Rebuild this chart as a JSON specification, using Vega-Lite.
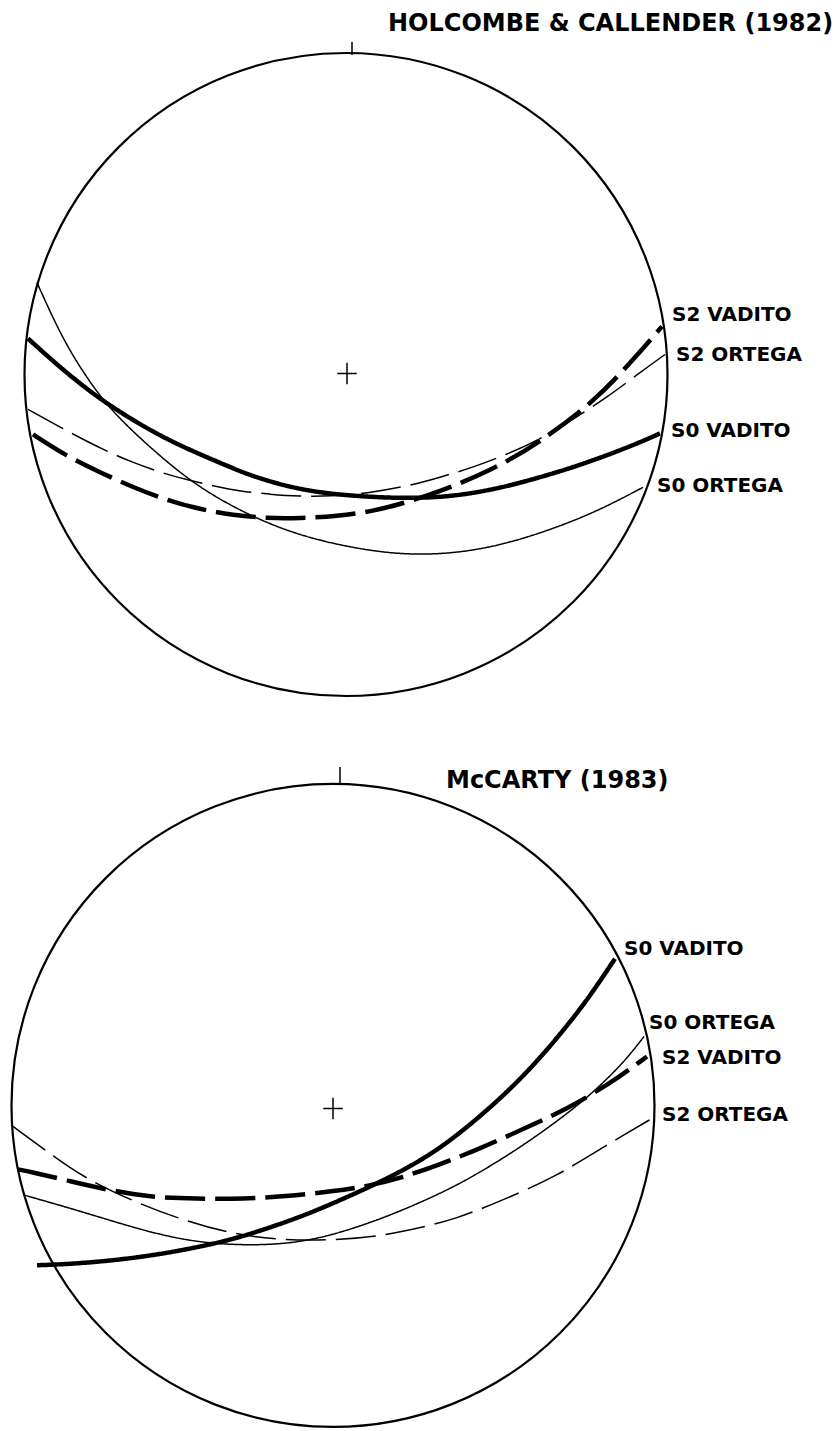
{
  "$schema": "https://vega.github.io/schema/vega-lite/v6.json",
  "width": 840,
  "height": 1431,
  "padding": 0,
  "autosize": {"type": "fit", "contains": "padding"},
  "background": "white",
  "config": {"view": {"stroke": null}},
  "datasets": {
    "circles": [
      {"panel": "top", "x": 346, "y": 375},
      {"panel": "bottom", "x": 333, "y": 1107}
    ],
    "crosses": [
      {"panel": "top", "x": 347, "y": 374},
      {"panel": "bottom", "x": 333, "y": 1110}
    ],
    "ticks": [
      {"panel": "top", "x": 352, "y": 42, "y2": 55},
      {"panel": "bottom", "x": 340, "y": 768, "y2": 785}
    ],
    "titles": [
      {"x": 388, "y": 24, "text": "HOLCOMBE & CALLENDER (1982)"},
      {"x": 446, "y": 782, "text": "McCARTY (1983)"}
    ],
    "labels": [
      {"x": 672, "y": 315, "text": "S2 VADITO"},
      {"x": 676, "y": 355, "text": "S2 ORTEGA"},
      {"x": 671, "y": 432, "text": "S0 VADITO"},
      {"x": 657, "y": 487, "text": "S0 ORTEGA"},
      {"x": 624, "y": 950, "text": "S0 VADITO"},
      {"x": 649, "y": 1024, "text": "S0 ORTEGA"},
      {"x": 662, "y": 1059, "text": "S2 VADITO"},
      {"x": 662, "y": 1117, "text": "S2 ORTEGA"}
    ],
    "arcs": [
      {"panel": "top", "surface": "S0", "unit": "VADITO", "x": 28, "y": 339},
      {"panel": "top", "surface": "S0", "unit": "VADITO", "x": 60, "y": 368},
      {"panel": "top", "surface": "S0", "unit": "VADITO", "x": 90, "y": 392},
      {"panel": "top", "surface": "S0", "unit": "VADITO", "x": 110, "y": 406},
      {"panel": "top", "surface": "S0", "unit": "VADITO", "x": 135, "y": 422},
      {"panel": "top", "surface": "S0", "unit": "VADITO", "x": 167, "y": 440},
      {"panel": "top", "surface": "S0", "unit": "VADITO", "x": 200, "y": 455},
      {"panel": "top", "surface": "S0", "unit": "VADITO", "x": 233, "y": 469},
      {"panel": "top", "surface": "S0", "unit": "VADITO", "x": 253, "y": 477},
      {"panel": "top", "surface": "S0", "unit": "VADITO", "x": 290, "y": 488},
      {"panel": "top", "surface": "S0", "unit": "VADITO", "x": 325, "y": 494},
      {"panel": "top", "surface": "S0", "unit": "VADITO", "x": 360, "y": 497},
      {"panel": "top", "surface": "S0", "unit": "VADITO", "x": 400, "y": 499},
      {"panel": "top", "surface": "S0", "unit": "VADITO", "x": 440, "y": 498},
      {"panel": "top", "surface": "S0", "unit": "VADITO", "x": 473, "y": 494},
      {"panel": "top", "surface": "S0", "unit": "VADITO", "x": 507, "y": 487},
      {"panel": "top", "surface": "S0", "unit": "VADITO", "x": 540, "y": 478},
      {"panel": "top", "surface": "S0", "unit": "VADITO", "x": 573, "y": 468},
      {"panel": "top", "surface": "S0", "unit": "VADITO", "x": 607, "y": 456},
      {"panel": "top", "surface": "S0", "unit": "VADITO", "x": 640, "y": 443},
      {"panel": "top", "surface": "S0", "unit": "VADITO", "x": 660, "y": 434},

      {"panel": "top", "surface": "S2", "unit": "VADITO", "x": 33, "y": 435},
      {"panel": "top", "surface": "S2", "unit": "VADITO", "x": 67, "y": 457},
      {"panel": "top", "surface": "S2", "unit": "VADITO", "x": 100, "y": 473},
      {"panel": "top", "surface": "S2", "unit": "VADITO", "x": 133, "y": 488},
      {"panel": "top", "surface": "S2", "unit": "VADITO", "x": 167, "y": 501},
      {"panel": "top", "surface": "S2", "unit": "VADITO", "x": 200, "y": 510},
      {"panel": "top", "surface": "S2", "unit": "VADITO", "x": 233, "y": 516},
      {"panel": "top", "surface": "S2", "unit": "VADITO", "x": 267, "y": 519},
      {"panel": "top", "surface": "S2", "unit": "VADITO", "x": 300, "y": 519},
      {"panel": "top", "surface": "S2", "unit": "VADITO", "x": 337, "y": 517},
      {"panel": "top", "surface": "S2", "unit": "VADITO", "x": 373, "y": 512},
      {"panel": "top", "surface": "S2", "unit": "VADITO", "x": 407, "y": 503},
      {"panel": "top", "surface": "S2", "unit": "VADITO", "x": 440, "y": 492},
      {"panel": "top", "surface": "S2", "unit": "VADITO", "x": 490, "y": 472},
      {"panel": "top", "surface": "S2", "unit": "VADITO", "x": 540, "y": 443},
      {"panel": "top", "surface": "S2", "unit": "VADITO", "x": 593, "y": 403},
      {"panel": "top", "surface": "S2", "unit": "VADITO", "x": 630, "y": 364},
      {"panel": "top", "surface": "S2", "unit": "VADITO", "x": 662, "y": 327},

      {"panel": "top", "surface": "S2", "unit": "ORTEGA", "x": 28, "y": 410},
      {"panel": "top", "surface": "S2", "unit": "ORTEGA", "x": 77, "y": 437},
      {"panel": "top", "surface": "S2", "unit": "ORTEGA", "x": 105, "y": 451},
      {"panel": "top", "surface": "S2", "unit": "ORTEGA", "x": 130, "y": 462},
      {"panel": "top", "surface": "S2", "unit": "ORTEGA", "x": 160, "y": 473},
      {"panel": "top", "surface": "S2", "unit": "ORTEGA", "x": 185, "y": 480},
      {"panel": "top", "surface": "S2", "unit": "ORTEGA", "x": 215, "y": 487},
      {"panel": "top", "surface": "S2", "unit": "ORTEGA", "x": 240, "y": 492},
      {"panel": "top", "surface": "S2", "unit": "ORTEGA", "x": 270, "y": 495},
      {"panel": "top", "surface": "S2", "unit": "ORTEGA", "x": 300, "y": 497},
      {"panel": "top", "surface": "S2", "unit": "ORTEGA", "x": 330, "y": 497},
      {"panel": "top", "surface": "S2", "unit": "ORTEGA", "x": 367, "y": 494},
      {"panel": "top", "surface": "S2", "unit": "ORTEGA", "x": 407, "y": 487},
      {"panel": "top", "surface": "S2", "unit": "ORTEGA", "x": 440, "y": 478},
      {"panel": "top", "surface": "S2", "unit": "ORTEGA", "x": 473, "y": 468},
      {"panel": "top", "surface": "S2", "unit": "ORTEGA", "x": 507, "y": 455},
      {"panel": "top", "surface": "S2", "unit": "ORTEGA", "x": 540, "y": 440},
      {"panel": "top", "surface": "S2", "unit": "ORTEGA", "x": 573, "y": 420},
      {"panel": "top", "surface": "S2", "unit": "ORTEGA", "x": 607, "y": 398},
      {"panel": "top", "surface": "S2", "unit": "ORTEGA", "x": 640, "y": 373},
      {"panel": "top", "surface": "S2", "unit": "ORTEGA", "x": 665, "y": 355},

      {"panel": "top", "surface": "S0", "unit": "ORTEGA", "x": 37, "y": 283},
      {"panel": "top", "surface": "S0", "unit": "ORTEGA", "x": 50, "y": 312},
      {"panel": "top", "surface": "S0", "unit": "ORTEGA", "x": 67, "y": 347},
      {"panel": "top", "surface": "S0", "unit": "ORTEGA", "x": 93, "y": 388},
      {"panel": "top", "surface": "S0", "unit": "ORTEGA", "x": 117, "y": 417},
      {"panel": "top", "surface": "S0", "unit": "ORTEGA", "x": 150, "y": 448},
      {"panel": "top", "surface": "S0", "unit": "ORTEGA", "x": 183, "y": 476},
      {"panel": "top", "surface": "S0", "unit": "ORTEGA", "x": 217, "y": 499},
      {"panel": "top", "surface": "S0", "unit": "ORTEGA", "x": 260, "y": 521},
      {"panel": "top", "surface": "S0", "unit": "ORTEGA", "x": 300, "y": 536},
      {"panel": "top", "surface": "S0", "unit": "ORTEGA", "x": 340, "y": 546},
      {"panel": "top", "surface": "S0", "unit": "ORTEGA", "x": 380, "y": 553},
      {"panel": "top", "surface": "S0", "unit": "ORTEGA", "x": 423, "y": 556},
      {"panel": "top", "surface": "S0", "unit": "ORTEGA", "x": 473, "y": 552},
      {"panel": "top", "surface": "S0", "unit": "ORTEGA", "x": 523, "y": 540},
      {"panel": "top", "surface": "S0", "unit": "ORTEGA", "x": 573, "y": 522},
      {"panel": "top", "surface": "S0", "unit": "ORTEGA", "x": 607, "y": 507},
      {"panel": "top", "surface": "S0", "unit": "ORTEGA", "x": 643, "y": 488},

      {"panel": "bottom", "surface": "S0", "unit": "VADITO", "x": 37, "y": 1267},
      {"panel": "bottom", "surface": "S0", "unit": "VADITO", "x": 67, "y": 1266},
      {"panel": "bottom", "surface": "S0", "unit": "VADITO", "x": 117, "y": 1262},
      {"panel": "bottom", "surface": "S0", "unit": "VADITO", "x": 167, "y": 1255},
      {"panel": "bottom", "surface": "S0", "unit": "VADITO", "x": 217, "y": 1245},
      {"panel": "bottom", "surface": "S0", "unit": "VADITO", "x": 250, "y": 1236},
      {"panel": "bottom", "surface": "S0", "unit": "VADITO", "x": 300, "y": 1219},
      {"panel": "bottom", "surface": "S0", "unit": "VADITO", "x": 340, "y": 1202},
      {"panel": "bottom", "surface": "S0", "unit": "VADITO", "x": 373, "y": 1187},
      {"panel": "bottom", "surface": "S0", "unit": "VADITO", "x": 407, "y": 1170},
      {"panel": "bottom", "surface": "S0", "unit": "VADITO", "x": 440, "y": 1150},
      {"panel": "bottom", "surface": "S0", "unit": "VADITO", "x": 473, "y": 1124},
      {"panel": "bottom", "surface": "S0", "unit": "VADITO", "x": 507, "y": 1094},
      {"panel": "bottom", "surface": "S0", "unit": "VADITO", "x": 540, "y": 1060},
      {"panel": "bottom", "surface": "S0", "unit": "VADITO", "x": 573, "y": 1020},
      {"panel": "bottom", "surface": "S0", "unit": "VADITO", "x": 593, "y": 993},
      {"panel": "bottom", "surface": "S0", "unit": "VADITO", "x": 615, "y": 960},

      {"panel": "bottom", "surface": "S0", "unit": "ORTEGA", "x": 25, "y": 1197},
      {"panel": "bottom", "surface": "S0", "unit": "ORTEGA", "x": 67, "y": 1209},
      {"panel": "bottom", "surface": "S0", "unit": "ORTEGA", "x": 100, "y": 1219},
      {"panel": "bottom", "surface": "S0", "unit": "ORTEGA", "x": 133, "y": 1229},
      {"panel": "bottom", "surface": "S0", "unit": "ORTEGA", "x": 167, "y": 1238},
      {"panel": "bottom", "surface": "S0", "unit": "ORTEGA", "x": 200, "y": 1244},
      {"panel": "bottom", "surface": "S0", "unit": "ORTEGA", "x": 240, "y": 1247},
      {"panel": "bottom", "surface": "S0", "unit": "ORTEGA", "x": 283, "y": 1246},
      {"panel": "bottom", "surface": "S0", "unit": "ORTEGA", "x": 320, "y": 1240},
      {"panel": "bottom", "surface": "S0", "unit": "ORTEGA", "x": 357, "y": 1229},
      {"panel": "bottom", "surface": "S0", "unit": "ORTEGA", "x": 390, "y": 1217},
      {"panel": "bottom", "surface": "S0", "unit": "ORTEGA", "x": 423, "y": 1203},
      {"panel": "bottom", "surface": "S0", "unit": "ORTEGA", "x": 457, "y": 1187},
      {"panel": "bottom", "surface": "S0", "unit": "ORTEGA", "x": 490, "y": 1168},
      {"panel": "bottom", "surface": "S0", "unit": "ORTEGA", "x": 523, "y": 1147},
      {"panel": "bottom", "surface": "S0", "unit": "ORTEGA", "x": 557, "y": 1123},
      {"panel": "bottom", "surface": "S0", "unit": "ORTEGA", "x": 590, "y": 1097},
      {"panel": "bottom", "surface": "S0", "unit": "ORTEGA", "x": 623, "y": 1065},
      {"panel": "bottom", "surface": "S0", "unit": "ORTEGA", "x": 644, "y": 1038},

      {"panel": "bottom", "surface": "S2", "unit": "VADITO", "x": 18, "y": 1171},
      {"panel": "bottom", "surface": "S2", "unit": "VADITO", "x": 33, "y": 1174},
      {"panel": "bottom", "surface": "S2", "unit": "VADITO", "x": 67, "y": 1182},
      {"panel": "bottom", "surface": "S2", "unit": "VADITO", "x": 100, "y": 1190},
      {"panel": "bottom", "surface": "S2", "unit": "VADITO", "x": 133, "y": 1196},
      {"panel": "bottom", "surface": "S2", "unit": "VADITO", "x": 167, "y": 1200},
      {"panel": "bottom", "surface": "S2", "unit": "VADITO", "x": 233, "y": 1201},
      {"panel": "bottom", "surface": "S2", "unit": "VADITO", "x": 287, "y": 1198},
      {"panel": "bottom", "surface": "S2", "unit": "VADITO", "x": 333, "y": 1193},
      {"panel": "bottom", "surface": "S2", "unit": "VADITO", "x": 367, "y": 1188},
      {"panel": "bottom", "surface": "S2", "unit": "VADITO", "x": 400, "y": 1180},
      {"panel": "bottom", "surface": "S2", "unit": "VADITO", "x": 440, "y": 1166},
      {"panel": "bottom", "surface": "S2", "unit": "VADITO", "x": 473, "y": 1153},
      {"panel": "bottom", "surface": "S2", "unit": "VADITO", "x": 507, "y": 1138},
      {"panel": "bottom", "surface": "S2", "unit": "VADITO", "x": 540, "y": 1123},
      {"panel": "bottom", "surface": "S2", "unit": "VADITO", "x": 567, "y": 1110},
      {"panel": "bottom", "surface": "S2", "unit": "VADITO", "x": 590, "y": 1097},
      {"panel": "bottom", "surface": "S2", "unit": "VADITO", "x": 620, "y": 1078},
      {"panel": "bottom", "surface": "S2", "unit": "VADITO", "x": 647, "y": 1058},

      {"panel": "bottom", "surface": "S2", "unit": "ORTEGA", "x": 13, "y": 1128},
      {"panel": "bottom", "surface": "S2", "unit": "ORTEGA", "x": 47, "y": 1153},
      {"panel": "bottom", "surface": "S2", "unit": "ORTEGA", "x": 83, "y": 1179},
      {"panel": "bottom", "surface": "S2", "unit": "ORTEGA", "x": 133, "y": 1203},
      {"panel": "bottom", "surface": "S2", "unit": "ORTEGA", "x": 183, "y": 1222},
      {"panel": "bottom", "surface": "S2", "unit": "ORTEGA", "x": 233, "y": 1236},
      {"panel": "bottom", "surface": "S2", "unit": "ORTEGA", "x": 283, "y": 1242},
      {"panel": "bottom", "surface": "S2", "unit": "ORTEGA", "x": 333, "y": 1242},
      {"panel": "bottom", "surface": "S2", "unit": "ORTEGA", "x": 380, "y": 1238},
      {"panel": "bottom", "surface": "S2", "unit": "ORTEGA", "x": 423, "y": 1229},
      {"panel": "bottom", "surface": "S2", "unit": "ORTEGA", "x": 457, "y": 1220},
      {"panel": "bottom", "surface": "S2", "unit": "ORTEGA", "x": 490, "y": 1207},
      {"panel": "bottom", "surface": "S2", "unit": "ORTEGA", "x": 523, "y": 1193},
      {"panel": "bottom", "surface": "S2", "unit": "ORTEGA", "x": 557, "y": 1177},
      {"panel": "bottom", "surface": "S2", "unit": "ORTEGA", "x": 590, "y": 1157},
      {"panel": "bottom", "surface": "S2", "unit": "ORTEGA", "x": 623, "y": 1137},
      {"panel": "bottom", "surface": "S2", "unit": "ORTEGA", "x": 652, "y": 1120}
    ]
  },
  "layer": [
    {
      "data": {"name": "circles"},
      "mark": {"type": "point", "shape": "circle", "filled": false, "stroke": "black", "strokeWidth": 2.2, "size": 413449, "opacity": 1},
      "encoding": {
        "x": {"field": "x", "type": "quantitative", "scale": {"domain": [0, 840], "nice": false, "zero": false}, "axis": null},
        "y": {"field": "y", "type": "quantitative", "scale": {"domain": [0, 1431], "nice": false, "zero": false, "reverse": true}, "axis": null}
      }
    },
    {
      "data": {"name": "crosses"},
      "mark": {"type": "point", "shape": "M-0.95,0H0.95M0,-1.05V1.05", "filled": false, "stroke": "black", "strokeWidth": 1.5, "size": 420, "opacity": 1},
      "encoding": {
        "x": {"field": "x", "type": "quantitative"},
        "y": {"field": "y", "type": "quantitative"}
      }
    },
    {
      "data": {"name": "ticks"},
      "mark": {"type": "rule", "color": "black", "strokeWidth": 1.5},
      "encoding": {
        "x": {"field": "x", "type": "quantitative"},
        "y": {"field": "y", "type": "quantitative"},
        "y2": {"field": "y2"}
      }
    },
    {
      "data": {"name": "arcs"},
      "mark": {"type": "line", "color": "black", "interpolate": "basis", "strokeCap": "butt"},
      "encoding": {
        "x": {"field": "x", "type": "quantitative"},
        "y": {"field": "y", "type": "quantitative"},
        "detail": {"field": "panel"},
        "strokeDash": {"field": "surface", "type": "nominal", "scale": {"domain": ["S0", "S2"], "range": [[1, 0], [40, 10]]}, "legend": null},
        "strokeWidth": {"field": "unit", "type": "nominal", "scale": {"domain": ["ORTEGA", "VADITO"], "range": [1.5, 4.5]}, "legend": null}
      }
    },
    {
      "data": {"name": "labels"},
      "mark": {"type": "text", "align": "left", "baseline": "middle", "font": "DejaVu Sans", "fontWeight": "bold", "fontSize": 20, "color": "black"},
      "encoding": {
        "x": {"field": "x", "type": "quantitative"},
        "y": {"field": "y", "type": "quantitative"},
        "text": {"field": "text"}
      }
    },
    {
      "data": {"name": "titles"},
      "mark": {"type": "text", "align": "left", "baseline": "middle", "font": "DejaVu Sans", "fontWeight": "bold", "fontSize": 24, "color": "black"},
      "encoding": {
        "x": {"field": "x", "type": "quantitative"},
        "y": {"field": "y", "type": "quantitative"},
        "text": {"field": "text"}
      }
    }
  ]
}
